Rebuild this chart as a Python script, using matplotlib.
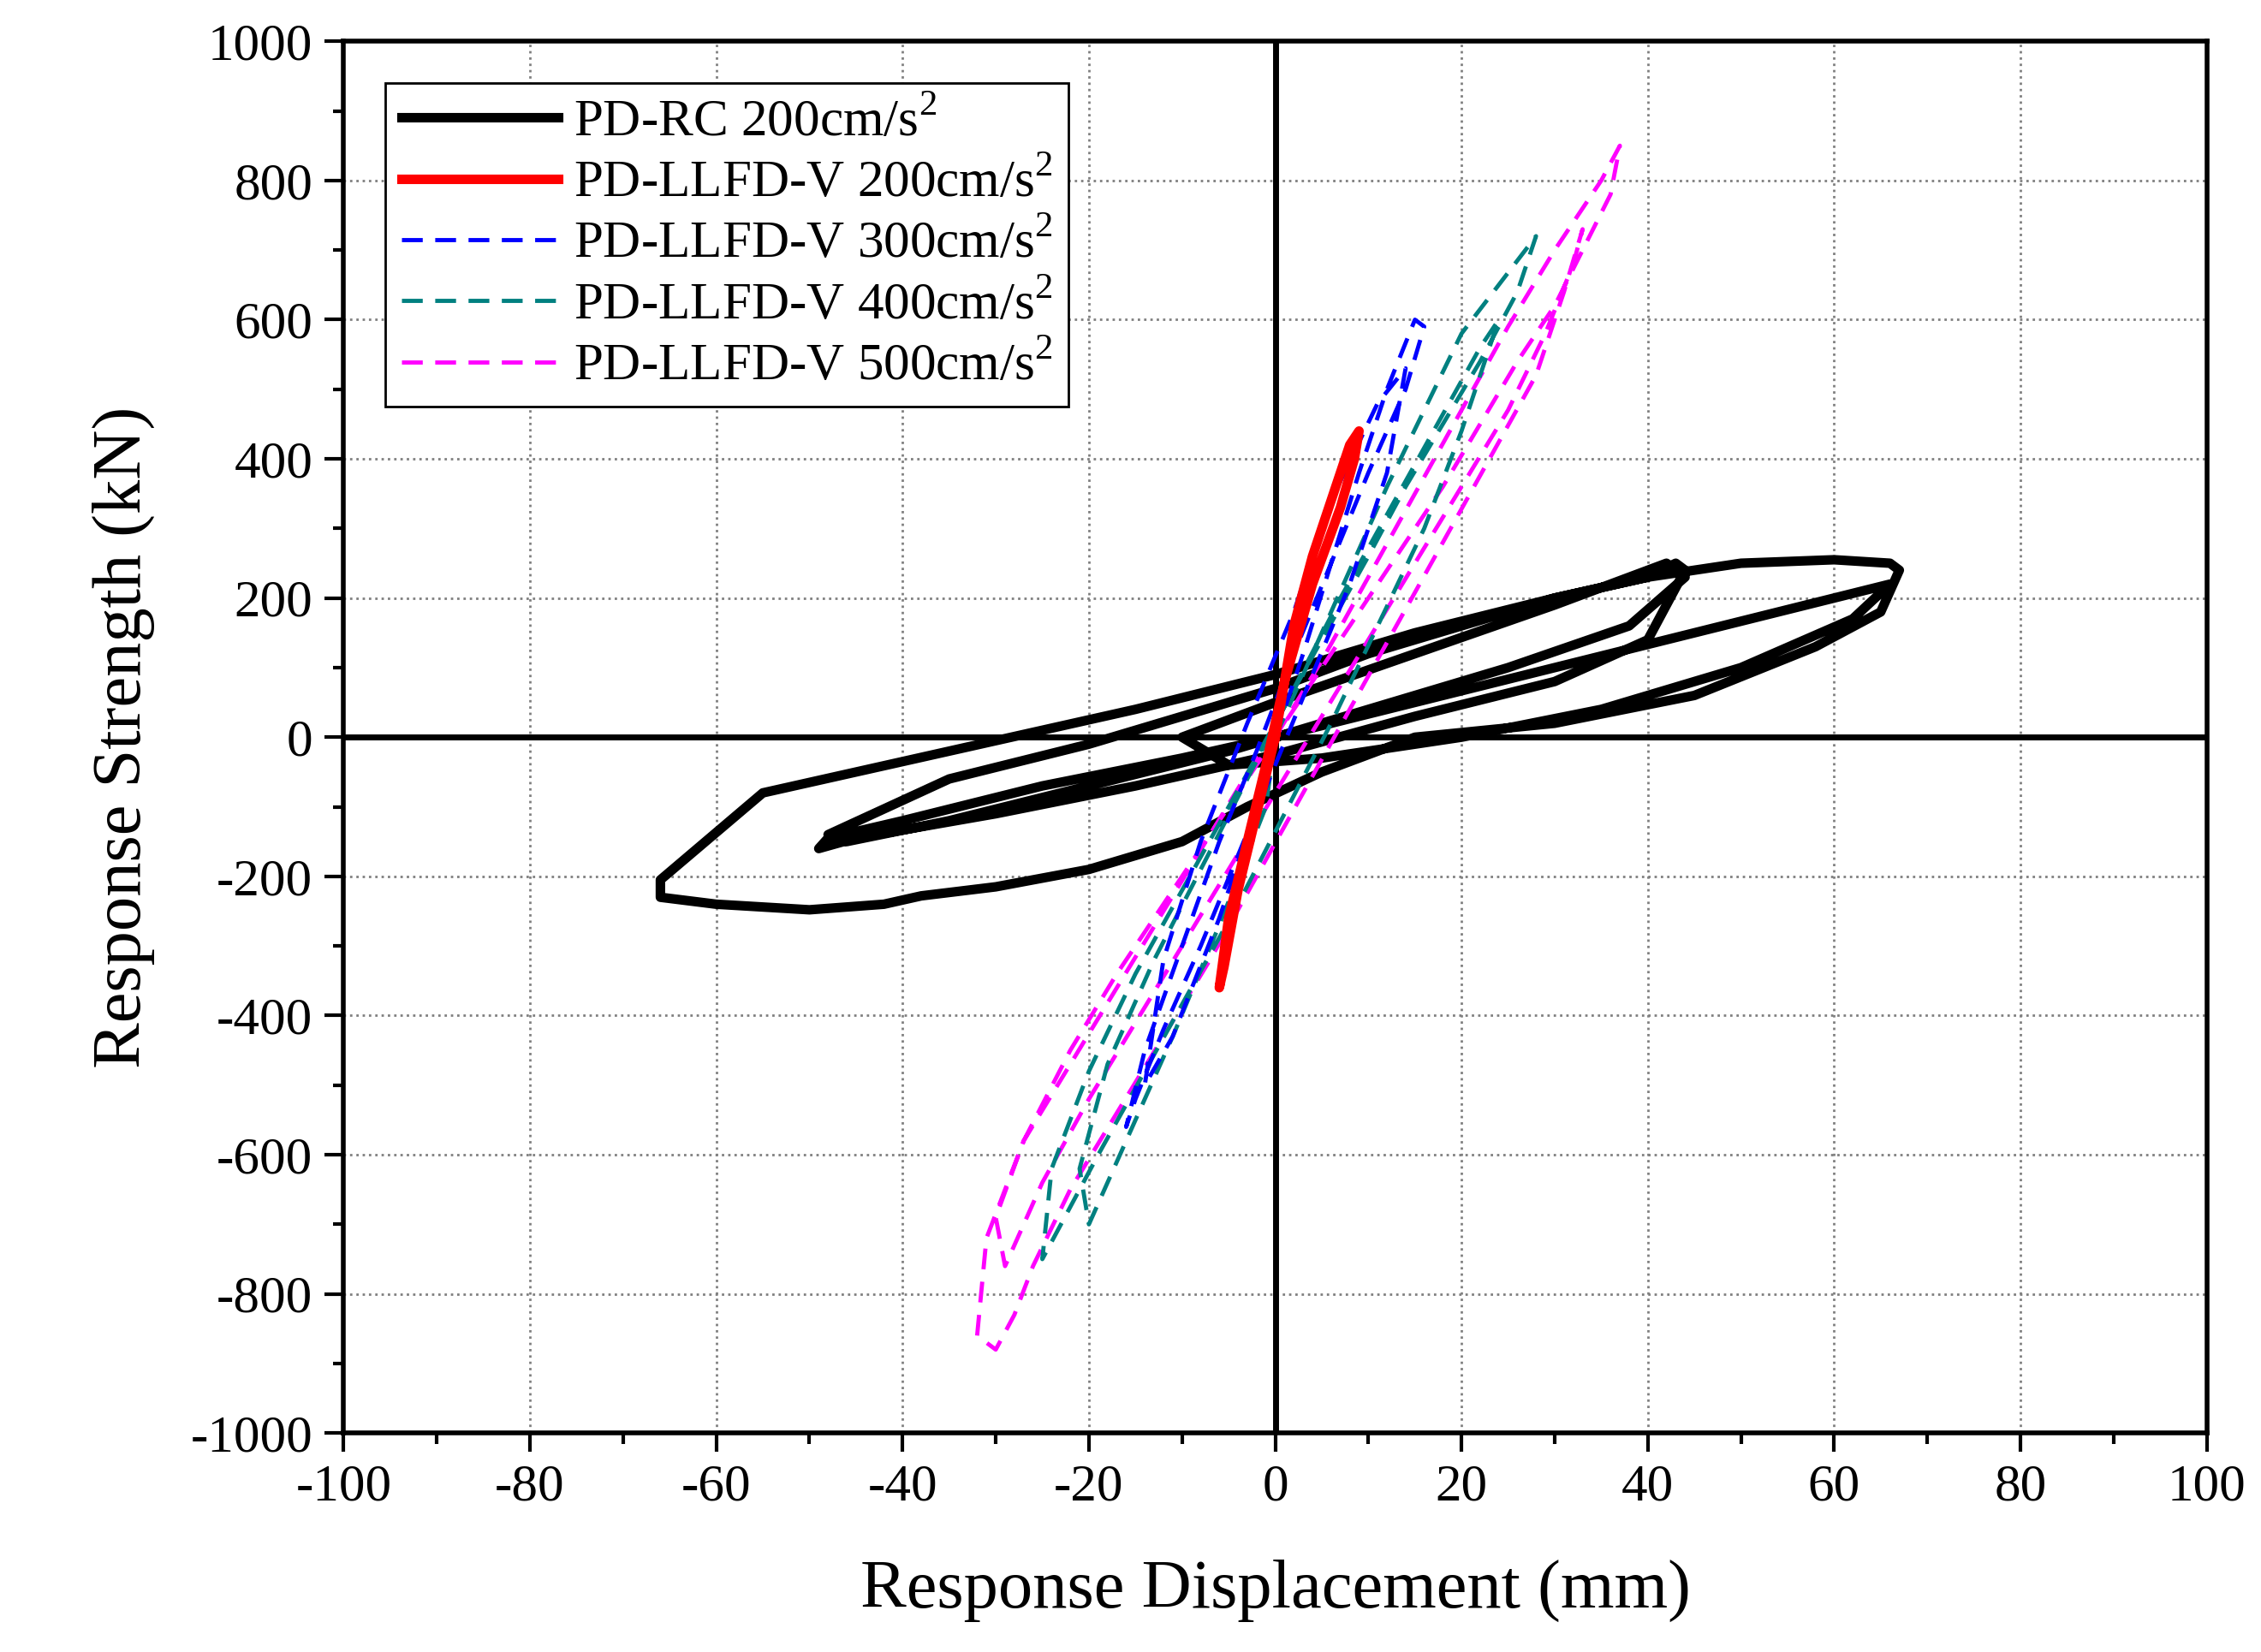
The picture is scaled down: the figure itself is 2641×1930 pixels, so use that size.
import matplotlib
matplotlib.use("Agg")
import matplotlib.pyplot as plt
from matplotlib.ticker import MultipleLocator

plt.rcParams["font.family"] = "Liberation Serif"
plt.rcParams["mathtext.fontset"] = "custom"
plt.rcParams["mathtext.rm"] = "Liberation Serif"
plt.rcParams["axes.unicode_minus"] = False

rc_x = [0, -10, -25, -40, -48, -49, -45, -30, -15, 0, 15, 30, 40, 44, 43, 40, 30, 15, 0, -15, -35, -55, -66, -66, -60, -50, -42, -38, -30, -20, -10, -3, 5, 15, 30, 45, 58, 65, 67, 66, 60, 50, 40, 30, 20, 10, 0, -10, -20, -35, -48, -46, -35, -20, -5, 10, 25, 38, 44, 42, 30, 15, 0, -10, -5, 5, 20, 35, 50, 62, 66, 60, 45, 30, 15, 0]
rc_y = [0, -30, -70, -120, -145, -160, -145, -110, -70, -25, 30, 80, 140, 240, 250, 230, 200, 150, 90, 40, -20, -80, -205, -230, -240, -248, -240, -228, -215, -190, -150, -100, -50, 0, 20, 60, 130, 180, 240, 250, 255, 250, 230, 200, 160, 120, 70, 30, -10, -60, -140, -150, -120, -70, -20, 40, 100, 160, 230, 250, 190, 120, 50, 0, -40, -30, 0, 40, 100, 170, 220, 200, 150, 100, 50, 0]

red_x = [0, 2, 4, 6, 8, 9, 8.5, 7, 4, 1, -1, -3, -5, -6, -5.5, -4, -2, 0]
red_y = [0, 160, 260, 340, 420, 440, 400, 330, 220, 80, -40, -150, -260, -360, -330, -220, -110, 0]

blue_x = [0, 3, 6, 9, 12, 15, 16, 14, 10, 6, 2, -2, -6, -10, -14, -16, -15, -12, -8, -4, 0, 4, 8, 12, 14, 11, 6, 2, -3, -8, -12, -14, -11, -6, -2, 0]
blue_y = [0, 120, 250, 380, 500, 600, 590, 500, 380, 250, 120, -20, -150, -300, -450, -560, -520, -420, -300, -170, -40, 90, 220, 380, 530, 480, 340, 180, 20, -150, -320, -500, -430, -260, -100, 0]

teal_x = [0, 4, 8, 12, 16, 20, 24, 28, 26, 22, 18, 14, 10, 5, 0, -5, -10, -15, -20, -24, -25, -23, -19, -14, -9, -4, 1, 6, 11, 16, 20, 24, 22, 17, 12, 7, 2, -3, -8, -13, -18, -21, -20, -16, -11, -6, -1, 0]
teal_y = [0, 120, 240, 360, 470, 580, 650, 720, 640, 540, 450, 360, 260, 140, 20, -100, -220, -340, -480, -620, -750, -700, -600, -480, -360, -240, -110, 20, 160, 300, 440, 600, 560, 440, 320, 200, 70, -60, -190, -320, -470, -620, -700, -580, -430, -270, -100, 0]

mag_x = [0, 5, 10, 15, 20, 25, 30, 35, 37, 36, 33, 30, 26, 22, 18, 13, 8, 3, -2, -7, -12, -17, -22, -27, -31, -32, -30, -28, -26, -22, -17, -12, -7, -2, 3, 8, 13, 18, 23, 28, 31, 33, 32, 29, 25, 20, 15, 10, 5, 0, -5, -10, -15, -20, -25, -29, -30, -27, -22, -17, -12, -7, -2, 0]
mag_y = [0, 110, 230, 350, 470, 590, 700, 800, 850, 780, 700, 620, 540, 450, 360, 260, 160, 60, -40, -140, -240, -340, -450, -580, -720, -860, -880, -830, -760, -650, -540, -430, -320, -200, -80, 40, 160, 280, 400, 520, 640, 730, 680, 580, 470, 360, 250, 140, 30, -80, -190, -300, -410, -520, -640, -760, -690, -580, -470, -360, -250, -140, -30, 0]

fig = plt.figure(figsize=(26.41, 19.30), dpi=100)
ax = fig.add_axes([0.152, 0.1325, 0.824, 0.8425])

ax.plot(mag_x, mag_y, color="#ff00ff", lw=3.5, ls=(0, (5, 3)), label="PD-LLFD-V 500cm/s$^{2}$", zorder=3)
ax.plot(teal_x, teal_y, color="#008080", lw=3.5, ls=(0, (5, 3)), label="PD-LLFD-V 400cm/s$^{2}$", zorder=4)
ax.plot(blue_x, blue_y, color="#0000ff", lw=3.5, ls=(0, (5, 3)), label="PD-LLFD-V 300cm/s$^{2}$", zorder=5)
ax.plot(red_x, red_y, color="#ff0000", lw=8, label="PD-LLFD-V 200cm/s$^{2}$", zorder=6)
ax.plot(rc_x, rc_y, color="black", lw=8, label="PD-RC 200cm/s$^{2}$", zorder=2)

ax.axhline(0, color="black", lw=5, zorder=1.5)
ax.axvline(0, color="black", lw=5, zorder=1.5)

ax.set_xlim(-100, 100)
ax.set_ylim(-1000, 1000)
ax.xaxis.set_major_locator(MultipleLocator(20))
ax.xaxis.set_minor_locator(MultipleLocator(10))
ax.yaxis.set_major_locator(MultipleLocator(200))
ax.yaxis.set_minor_locator(MultipleLocator(100))
ax.set_axisbelow(True)
ax.grid(True, which="major", color="gray", ls=":", lw=2)
ax.tick_params(which="major", direction="out", length=16, width=3, labelsize=44, pad=10)
ax.tick_params(which="minor", direction="out", length=9, width=3)
for s in ax.spines.values():
    s.set_linewidth(4)
ax.set_xlabel("Response Displacement (mm)", fontsize=58, labelpad=40)
ax.set_ylabel("Response Strength (kN)", fontsize=58, labelpad=30)

h, l = ax.get_legend_handles_labels()
leg = ax.legend(h[::-1], l[::-1], loc="upper left", fontsize=44, handlelength=3,
                fancybox=False, edgecolor="black", framealpha=1, borderaxespad=0.8,
                labelspacing=0.25, borderpad=0.3, handletextpad=0.3)
leg.get_frame().set_linewidth(2)

fig.savefig("out.png", dpi=100)
